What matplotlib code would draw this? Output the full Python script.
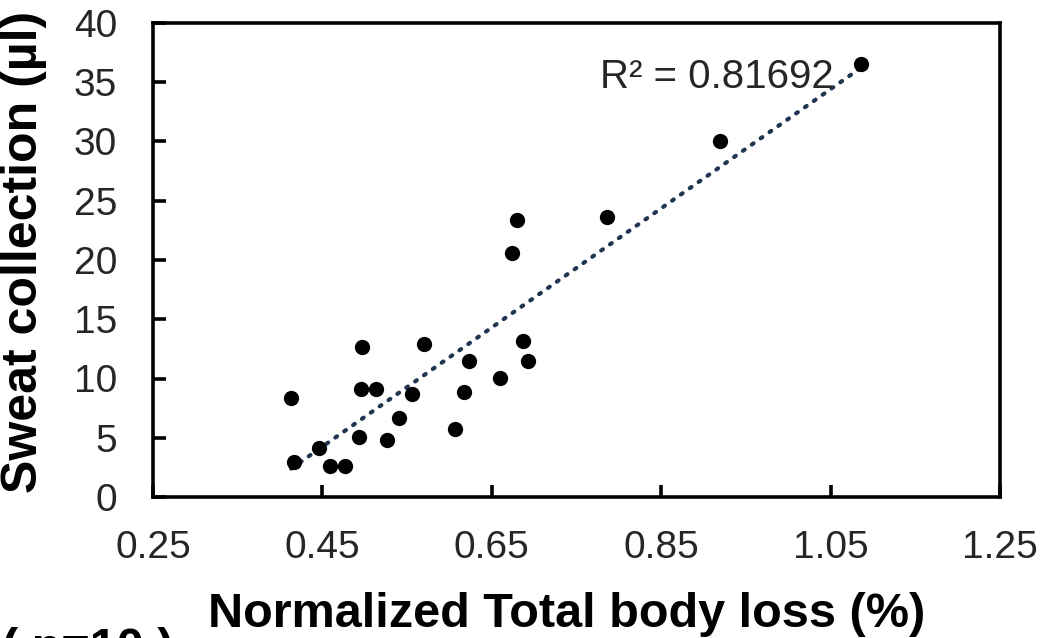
import numpy as np
import matplotlib
matplotlib.use("Agg")
import matplotlib.pyplot as plt

plt.rcParams['font.family'] = ['Liberation Sans', 'DejaVu Sans']

# Normalized total body loss (%) and sweat collected (µl) per trial
body_loss = [0.413, 0.416, 0.446, 0.459, 0.477, 0.493, 0.497, 0.495, 0.513,
             0.526, 0.540, 0.556, 0.570, 0.607, 0.617, 0.623, 0.660, 0.674,
             0.680, 0.687, 0.693, 0.786, 0.920, 1.086]
sweat = [8.38, 2.98, 4.11, 2.64, 2.64, 5.04, 12.69, 9.09, 9.09,
         4.81, 6.69, 8.66, 12.94, 5.74, 8.86, 11.48, 10.07, 20.56,
         23.38, 13.16, 11.48, 23.65, 30.07, 36.50]
x_ticks = [0.25, 0.45, 0.65, 0.85, 1.05, 1.25]
x_tick_labels = ["0.25", "0.45", "0.65", "0.85", "1.05", "1.25"]
y_ticks = [0, 5, 10, 15, 20, 25, 30, 35, 40]
r2_label = "R² = 0.81692"

W, H = 1044, 638
fig = plt.figure(figsize=(W / 100, H / 100), dpi=100)
ax = fig.add_axes([153 / W, 1 - 497 / H, (1000 - 153) / W, (497 - 23) / H])

x = np.array(body_loss)
y = np.array(sweat)

# linear trendline spanning the data range
slope, intercept = np.polyfit(x, y, 1)
xl = np.array([x.min(), x.max()])
ax.plot(xl, slope * xl + intercept, color='#1f3550', lw=3.0,
        linestyle=(0, (0.5, 2.1)), dash_capstyle='round', zorder=2)

ax.plot(x, y, 'o', color='black', markersize=11, markeredgewidth=0, zorder=3)

ax.text(0.778, 34.5, r2_label, fontsize=29, color='#262626',
        ha='left', va='baseline', zorder=4)

ax.set_xlim(0.25, 1.25)
ax.set_ylim(0, 40)
ax.set_xticks(x_ticks)
ax.set_xticklabels(x_tick_labels)
ax.set_yticks(y_ticks)

for s in ax.spines.values():
    s.set_linewidth(2.6)
    s.set_color('black')

ax.tick_params(axis='both', direction='in', width=2.6, length=9,
               labelsize=28, labelcolor='#262626')
ax.tick_params(axis='x', pad=24)
ax.tick_params(axis='y', pad=26)

fig.text(567 / W, 1 - 627 / H, "Normalized Total body loss (%)",
         fontsize=35, fontweight='bold', ha='center', va='baseline')
fig.text(24 / W, 1 - 252 / H, "Sweat collection (µl)", rotation=90,
         fontsize=36, fontweight='bold', ha='center', va='center')
fig.text(2 / W, 1 - 662 / H, "( n=10 )", fontsize=35, fontweight='bold',
         ha='left', va='baseline')

fig.savefig("out.png", dpi=100)
